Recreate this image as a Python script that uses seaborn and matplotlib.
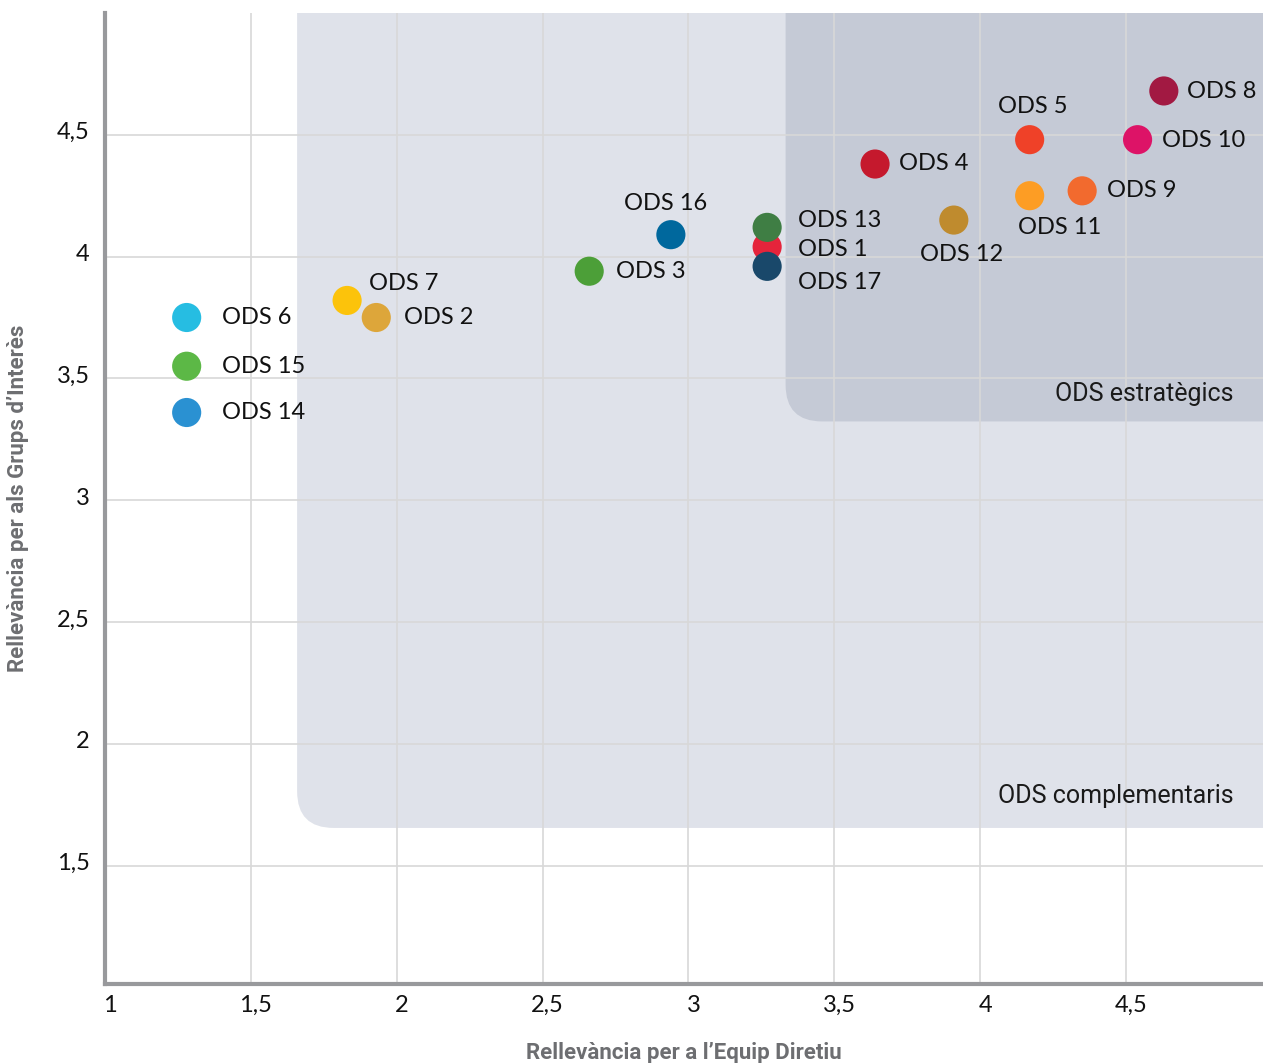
import numpy as np
import pandas as pd
import matplotlib
matplotlib.use("Agg")
import matplotlib.pyplot as plt
import matplotlib.transforms as mtransforms
from matplotlib.patches import FancyBboxPatch
import seaborn as sns

# ODS labels, x = relevance for the board, y = relevance for stakeholders
ods_labels = ["ODS 1", "ODS 2", "ODS 3", "ODS 4", "ODS 5", "ODS 6", "ODS 7", "ODS 8", "ODS 9",
              "ODS 10", "ODS 11", "ODS 12", "ODS 13", "ODS 14", "ODS 15", "ODS 16", "ODS 17"]
x_equip = [3.27, 1.93, 2.66, 3.64, 4.17, 1.28, 1.83, 4.63, 4.35,
           4.54, 4.17, 3.91, 3.27, 1.28, 1.28, 2.94, 3.27]
y_grups = [4.04, 3.75, 3.94, 4.38, 4.48, 3.75, 3.82, 4.68, 4.27,
           4.48, 4.25, 4.15, 4.12, 3.36, 3.55, 4.09, 3.96]
ods_colors = ["#E5243B", "#DDA63A", "#4C9F38", "#C5192D", "#EF4128", "#26BDE2", "#FCC30B", "#A21942", "#F26A2E",
              "#DD1367", "#FD9D24", "#BF8B2E", "#3F7E44", "#2A91D2", "#5CB846", "#00689D", "#19486A"]

x_ticks = [1, 1.5, 2, 2.5, 3, 3.5, 4, 4.5]
x_ticklabels = ["1", "1,5", "2", "2,5", "3", "3,5", "4", "4,5"]
y_ticks = [1.5, 2, 2.5, 3, 3.5, 4, 4.5]
y_ticklabels = ["1,5", "2", "2,5", "3", "3,5", "4", "4,5"]

# zone thresholds
complementary_start = 5 / 3
strategic_start = 10 / 3

# label placement: (dx px, dy px, ha)
label_pos = {
    "ODS 1": (31, -3, "left"), "ODS 2": (28, 0, "left"), "ODS 3": (27, 0, "left"),
    "ODS 4": (24, 1, "left"), "ODS 5": (3, 33, "center"), "ODS 6": (35, 0, "left"),
    "ODS 7": (22, 17, "left"), "ODS 8": (23, -1, "left"), "ODS 9": (25, 0, "left"),
    "ODS 10": (24, -1, "left"), "ODS 11": (30, -32, "center"), "ODS 12": (8, -34, "center"),
    "ODS 13": (31, 7, "left"), "ODS 14": (35, 0, "left"), "ODS 15": (35, 0, "left"),
    "ODS 16": (-5, 31, "center"), "ODS 17": (31, -16, "left"),
}

df = pd.DataFrame({"ods": ods_labels, "x": x_equip, "y": y_grups})

sns.set_style("white")
plt.rcParams["font.family"] = ["Lato", "DejaVu Sans"]

fig = plt.figure(figsize=(12.63, 10.63), dpi=100)
ax = fig.add_axes([105 / 1263, 79 / 1063, 1 - 105 / 1263, (984 - 13) / 1063])
ax.set_xlim(1.013, 4.97)
ax.set_ylim(1.014, 5.0)

# px per data unit ratio so corners look round
aspect = (292.6 / 243.3)
radius = 0.125
light = FancyBboxPatch((complementary_start - 0.008, 5 / 3 - 0.012), 5, 5,
                       boxstyle=f"round,pad=0,rounding_size={radius}",
                       mutation_aspect=aspect, facecolor="#DFE2EA", edgecolor="none", zorder=0.2)
dark = FancyBboxPatch((strategic_start, strategic_start - 0.01), 5, 5,
                      boxstyle=f"round,pad=0,rounding_size={radius}",
                      mutation_aspect=aspect, facecolor="#C5CAD6", edgecolor="none", zorder=0.3)
ax.add_patch(light)
ax.add_patch(dark)

ax.text(4.868, 3.435, "ODS estratègics", ha="right", va="center", fontsize=18,
        family=["Roboto", "DejaVu Sans"], color="#1a1a1a", zorder=3)
ax.text(4.868, 1.787, "ODS complementaris", ha="right", va="center", fontsize=18,
        family=["Roboto", "DejaVu Sans"], color="#1a1a1a", zorder=3)

ax.set_axisbelow(True)
ax.grid(True, color="#D8D8D8", linewidth=1.2)

sns.scatterplot(data=df, x="x", y="y", hue="ods", palette=dict(zip(ods_labels, ods_colors)),
                s=440, linewidth=0, legend=False, ax=ax, zorder=4)

for name, xv, yv in zip(ods_labels, x_equip, y_grups):
    dx, dy, ha = label_pos[name]
    ax.annotate(name, (xv, yv), xytext=(dx, dy), textcoords="offset pixels",
                ha=ha, va="center", fontsize=17, color="#111111", zorder=5)

ax.set_xticks(x_ticks)
ax.set_xticklabels(x_ticklabels, fontsize=17, color="#111111")
ax.set_yticks(y_ticks)
ax.set_yticklabels(y_ticklabels, fontsize=17, color="#111111")
ax.tick_params(axis="both", length=0)
ax.tick_params(axis="x", pad=8)
ax.tick_params(axis="y", pad=11)
shift = mtransforms.ScaledTranslation(5 / 100, 0, fig.dpi_scale_trans)
for lab in ax.get_xticklabels():
    lab.set_transform(lab.get_transform() + shift)
shift_y = mtransforms.ScaledTranslation(0, 4 / 100, fig.dpi_scale_trans)
for lab in ax.get_yticklabels():
    lab.set_transform(lab.get_transform() + shift_y)

for side in ["top", "right"]:
    ax.spines[side].set_visible(False)
for side in ["left", "bottom"]:
    ax.spines[side].set_color("#98999C")
    ax.spines[side].set_linewidth(3)

title_font = ["Liberation Sans Narrow", "Roboto", "DejaVu Sans"]
ax.set_xlabel("Rellevància per a l’Equip Diretiu", fontsize=16, fontweight="bold",
              color="#6D6E71", family=title_font)
ax.set_ylabel("Rellevància per als Grups d’Interès", fontsize=16, fontweight="bold",
              color="#6D6E71", family=title_font)
ax.yaxis.set_label_coords(-0.066, 0.5)
ax.xaxis.set_label_coords(0.5, -0.060)

fig.savefig("out.png", dpi=100)
